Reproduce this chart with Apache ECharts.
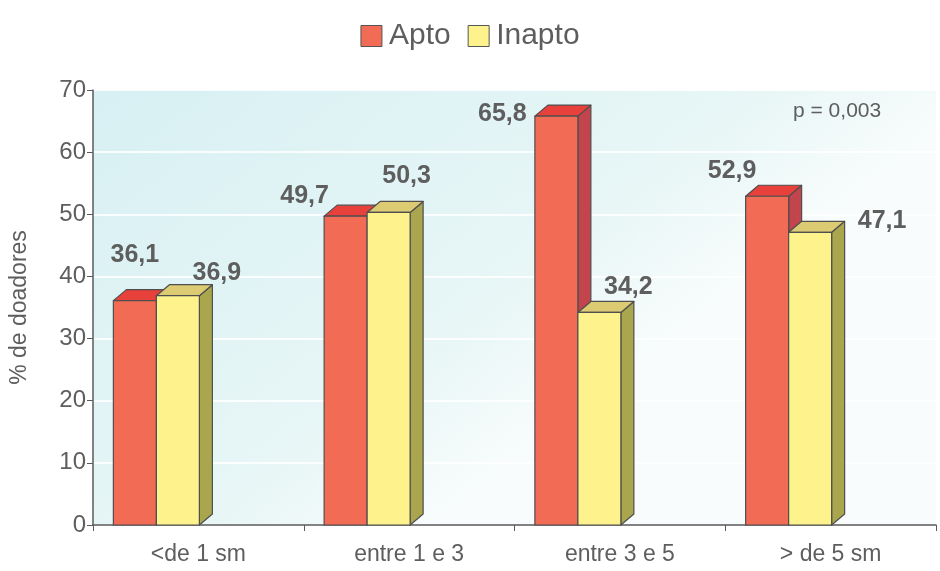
<!DOCTYPE html>
<html>
<head>
<meta charset="utf-8">
<script src="https://cdn.jsdelivr.net/npm/echarts@6/dist/echarts.min.js"></script>
<style>
  html, body { margin: 0; padding: 0; background: #fff; }
  #chart { width: 940px; height: 571px; }
</style>
</head>
<body>
<div id="chart"></div>
<script>
// dados
var categorias = ['<de 1 sm', 'entre 1 e 3', 'entre 3 e 5', '> de 5 sm']
var apto = [36.1, 49.7, 65.8, 52.9]
var inapto = [36.9, 50.3, 34.2, 47.1]
var yTicks = [0, 10, 20, 30, 40, 50, 60, 70]

var FONT = '"Liberation Sans", Arial, sans-serif'
var TXT = '#5e5e5e'
var BAR_W = 43   // largura da face frontal
var DX = 13      // profundidade 3D
var DY = 11

// deslocamento dos rótulos em relação ao topo da barra (px)
var offApto = [[0, -46], [-41, -20], [-54, -2], [-35, -25]]
var offInapto = [[39, -23], [18, -36], [29, -25], [72, -11]]

function fmt(v) {
  return v.toFixed(1).replace('.', ',')
}

// barra "3D": face frontal, topo e lateral
function makeRender(shiftX, cols, offs) {
  return function (params, api) {
    var idx = api.value(0)
    var val = api.value(1)
    var base = api.coord([idx, 0])
    var top = api.coord([idx, val])
    var x0 = base[0] + shiftX
    var x1 = x0 + BAR_W
    var yb = base[1]
    var yt = top[1]
    var edge = { stroke: '#4f4f4f', lineWidth: 1.2, lineJoin: 'round' }
    var off = offs[params.dataIndex]
    return {
      type: 'group',
      children: [
        {
          type: 'polygon',
          shape: { points: [[x1, yb], [x1 + DX, yb - DY], [x1 + DX, yt - DY], [x1, yt]] },
          style: Object.assign({ fill: cols.side }, edge)
        },
        {
          type: 'polygon',
          shape: { points: [[x0, yt], [x0 + DX, yt - DY], [x1 + DX, yt - DY], [x1, yt]] },
          style: Object.assign({ fill: cols.top }, edge)
        },
        {
          type: 'rect',
          shape: { x: x0, y: yt, width: BAR_W, height: yb - yt },
          style: Object.assign({ fill: cols.front }, edge)
        },
        {
          type: 'text',
          z2: 100,
          style: {
            text: fmt(val),
            x: (x0 + x1) / 2 + off[0],
            y: yt + off[1],
            align: 'center',
            verticalAlign: 'middle',
            fill: TXT,
            font: 'bold 25px ' + FONT
          }
        }
      ]
    }
  }
}

var corApto = { front: '#f26b55', top: '#e8403a', side: '#c2444c' }
var corInapto = { front: '#fdf28c', top: '#dccb72', side: '#a9a64e' }

var chart = echarts.init(document.getElementById('chart'))
var option = {
  backgroundColor: '#ffffff',
  animation: false,
  legend: {
    top: 16,
    left: 'center',
    itemWidth: 21,
    itemHeight: 21,
    itemGap: 17,
    icon: 'rect',
    data: ['Apto', 'Inapto'],
    itemStyle: { borderColor: '#555', borderWidth: 1 },
    textStyle: { fontSize: 30, color: TXT, fontFamily: FONT, padding: [0, 0, 0, 2] }
  },
  graphic: [{
    type: 'text',
    left: 793,
    top: 101,
    style: { text: 'p = 0,003', fill: TXT, font: '21px ' + FONT }
  }],
  grid: {
    left: 93,
    right: 4,
    top: 90,
    bottom: 46,
    show: true,
    borderWidth: 0,
    backgroundColor: new echarts.graphic.LinearGradient(0, 0, 0.4, 1, [
      { offset: 0, color: '#d7f0f3' },
      { offset: 0.75, color: '#e8f6f6' },
      { offset: 1, color: '#f8fcfc' }
    ])
  },
  xAxis: {
    type: 'category',
    data: categorias,
    axisLine: { lineStyle: { color: '#5a5a5a', width: 1.5 } },
    axisTick: { show: true, length: 6, lineStyle: { color: '#5a5a5a' } },
    axisLabel: { color: TXT, fontSize: 23, fontFamily: FONT, margin: 18 }
  },
  yAxis: {
    type: 'value',
    min: yTicks[0],
    max: yTicks[yTicks.length - 1],
    interval: 10,
    name: '% de doadores',
    nameLocation: 'middle',
    nameGap: 62,
    nameTextStyle: { color: TXT, fontSize: 23, fontFamily: FONT },
    axisLine: { show: true, lineStyle: { color: '#5a5a5a', width: 1.5 } },
    axisTick: { show: true, length: 6, lineStyle: { color: '#5a5a5a' } },
    axisLabel: { color: TXT, fontSize: 24, fontFamily: FONT, margin: 7 },
    splitLine: { show: true, lineStyle: { color: 'rgba(255,255,255,0.85)', width: 2 } }
  },
  series: [
    {
      name: 'Apto',
      type: 'custom',
      itemStyle: { color: corApto.front },
      encode: { x: 0, y: 1 },
      data: apto.map(function (v, i) { return [i, v] }),
      renderItem: makeRender(-85, corApto, offApto),
      z: 2
    },
    {
      name: 'Inapto',
      type: 'custom',
      itemStyle: { color: corInapto.front },
      encode: { x: 0, y: 1 },
      data: inapto.map(function (v, i) { return [i, v] }),
      renderItem: makeRender(-85 + BAR_W, corInapto, offInapto),
      z: 3
    }
  ]
}
chart.setOption(option)
</script>
</body>
</html>
